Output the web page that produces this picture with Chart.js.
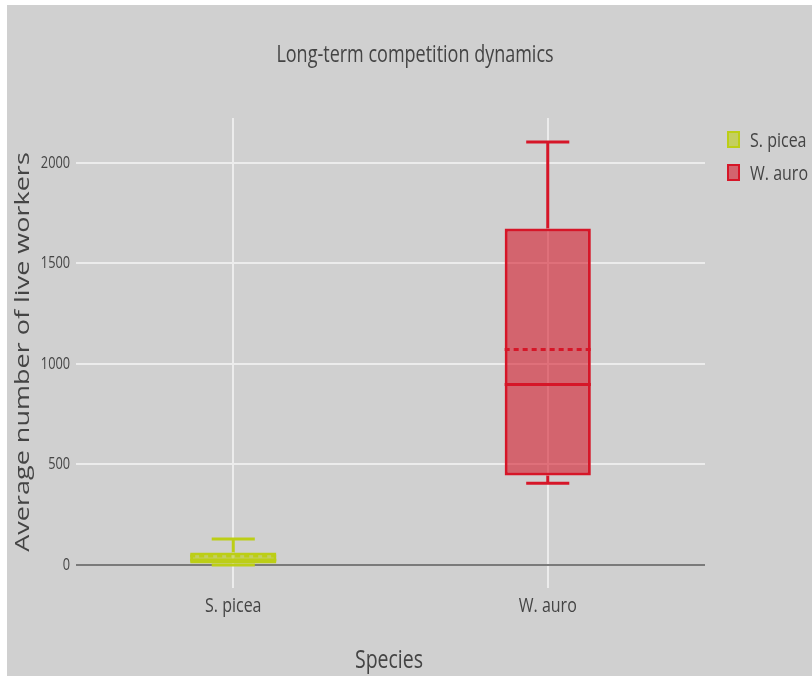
<!DOCTYPE html>
<html>
<head>
<meta charset="utf-8">
<script src="https://cdn.jsdelivr.net/npm/chart.js@4.4.1/dist/chart.umd.min.js"></script>
<style>
  html, body { margin: 0; padding: 0; background: #fff; overflow: hidden; }
  #wrap { position: absolute; left: 7px; top: 5px; width: 805px; height: 671px; }
</style>
</head>
<body>
<div id="wrap"><canvas id="boxChart"></canvas></div>
<script>
// Box plot summary values per species
const species = ['S. picea', 'W. auro'];
const lowerWhisker = [0, 407];
const q1 = [8, 445];
const median = [25, 898];
const q3 = [62, 1673];
const upperWhisker = [130, 2103];
const means = [45, 1072];
const yTicks = [0, 500, 1000, 1500, 2000];

const lineColors = ['rgb(188, 206, 22)', 'rgb(214, 22, 40)'];
const fillColors = ['rgba(188, 206, 22, 0.6)', 'rgba(214, 22, 40, 0.58)'];

const bg = '#d0d0d0';
const textColor = '#444';

// the original text is horizontally squeezed, so draw it through a scale
const squeezed = (ctx, text, x, y, font, sx, align) => {
    ctx.save();
    ctx.translate(x, y);
    ctx.scale(sx, 1);
    ctx.font = font;
    ctx.textAlign = align || 'center';
    ctx.fillText(text, 0, 0);
    ctx.restore();
};

// whiskers, medians, means and the decorations that Chart.js has no built-in for
const boxExtras = {
    id: 'boxExtras',
    beforeDraw(chart) {
        const { ctx } = chart;
        ctx.save();
        ctx.fillStyle = bg;
        ctx.fillRect(0, 0, chart.width, chart.height);
        ctx.restore();
    },
    afterDatasetsDraw(chart) {
        const { ctx } = chart;
        const y = chart.scales.y;
        const meta = chart.getDatasetMeta(0);
        meta.data.forEach((bar, i) => {
            const cx = bar.x;
            const half = bar.width / 2;
            const capHalf = half / 2;
            ctx.save();
            ctx.strokeStyle = lineColors[i];
            ctx.lineWidth = 3;
            const yMin = y.getPixelForValue(lowerWhisker[i]);
            const yMax = y.getPixelForValue(upperWhisker[i]);
            const yQ1 = y.getPixelForValue(q1[i]);
            const yQ3 = y.getPixelForValue(q3[i]);
            ctx.beginPath();
            ctx.moveTo(cx, yQ3); ctx.lineTo(cx, yMax);
            ctx.moveTo(cx - capHalf, yMax); ctx.lineTo(cx + capHalf, yMax);
            ctx.moveTo(cx, yQ1); ctx.lineTo(cx, yMin);
            ctx.moveTo(cx - capHalf, yMin); ctx.lineTo(cx + capHalf, yMin);
            const yMed = y.getPixelForValue(median[i]);
            ctx.moveTo(cx - half, yMed); ctx.lineTo(cx + half, yMed);
            ctx.stroke();
            // dashed mean
            ctx.setLineDash([5, 4]);
            const yMean = y.getPixelForValue(means[i]);
            ctx.beginPath();
            ctx.moveTo(cx - half, yMean); ctx.lineTo(cx + half, yMean);
            ctx.stroke();
            ctx.restore();
        });
    },
    afterDraw(chart) {
        const { ctx, chartArea, scales } = chart;
        ctx.save();
        ctx.fillStyle = textColor;
        ctx.textBaseline = 'alphabetic';
        // title
        squeezed(ctx, 'Long-term competition dynamics', 408, 57, '24px "Open Sans"', 0.75);
        // tick labels
        ctx.textBaseline = 'middle';
        yTicks.forEach(v => {
            squeezed(ctx, String(v), chartArea.left - 6, scales.y.getPixelForValue(v), '17px "Open Sans"', 0.75, 'right');
        });
        ctx.textBaseline = 'alphabetic';
        species.forEach((name, i) => {
            squeezed(ctx, name, scales.x.getPixelForValue(i), 607, '20px "Open Sans"', 0.8);
        });
        // x title
        squeezed(ctx, 'Species', 382, 663, '25px "Open Sans"', 0.78);
        // y title
        ctx.save();
        ctx.translate(16, 347);
        ctx.rotate(-Math.PI / 2);
        ctx.scale(1, 0.75);
        ctx.textAlign = 'center';
        ctx.textBaseline = 'middle';
        ctx.font = '27px "Open Sans"';
        ctx.fillText('Average number of live workers', 0, 0);
        ctx.restore();
        // legend
        ctx.textBaseline = 'alphabetic';
        species.forEach((name, i) => {
            const top = 127 + i * 33;
            ctx.fillStyle = fillColors[i];
            ctx.fillRect(721, top, 11, 15);
            ctx.strokeStyle = lineColors[i];
            ctx.lineWidth = 2;
            ctx.strokeRect(721, top, 11, 15);
            ctx.fillStyle = textColor;
            squeezed(ctx, name, 743, top + 15, '20px "Open Sans"', 0.8, 'left');
        });
        ctx.restore();
    }
};

const ctx = document.getElementById('boxChart').getContext('2d');
new Chart(ctx, {
    type: 'bar',
    data: {
        labels: species,
        datasets: [{
            label: 'IQR',
            data: species.map((_, i) => [q1[i], q3[i]]),
            backgroundColor: fillColors,
            borderColor: lineColors,
            borderWidth: 3,
            borderSkipped: false,
            categoryPercentage: 1,
            barPercentage: 0.274
        }]
    },
    options: {
        responsive: true,
        maintainAspectRatio: false,
        animation: false,
        layout: { padding: { left: 29, top: 113, right: 107, bottom: 43 } },
        plugins: {
            legend: { display: false },
            tooltip: { enabled: false }
        },
        scales: {
            x: {
                grid: { offset: false, color: '#ececec', lineWidth: 2, drawTicks: false },
                border: { display: false },
                ticks: { display: false },
                afterFit: (s) => { s.height = 45; }
            },
            y: {
                min: -114,
                max: 2222,
                afterBuildTicks: (s) => { s.ticks = yTicks.map(v => ({ value: v })); },
                grid: {
                    color: (c) => c.tick && c.tick.value === 0 ? '#7a7a7a' : '#ececec',
                    lineWidth: 2,
                    drawTicks: false
                },
                border: { display: false },
                ticks: { display: false },
                afterFit: (s) => { s.width = 40; }
            }
        }
    },
    plugins: [boxExtras]
});
</script>
</body>
</html>
